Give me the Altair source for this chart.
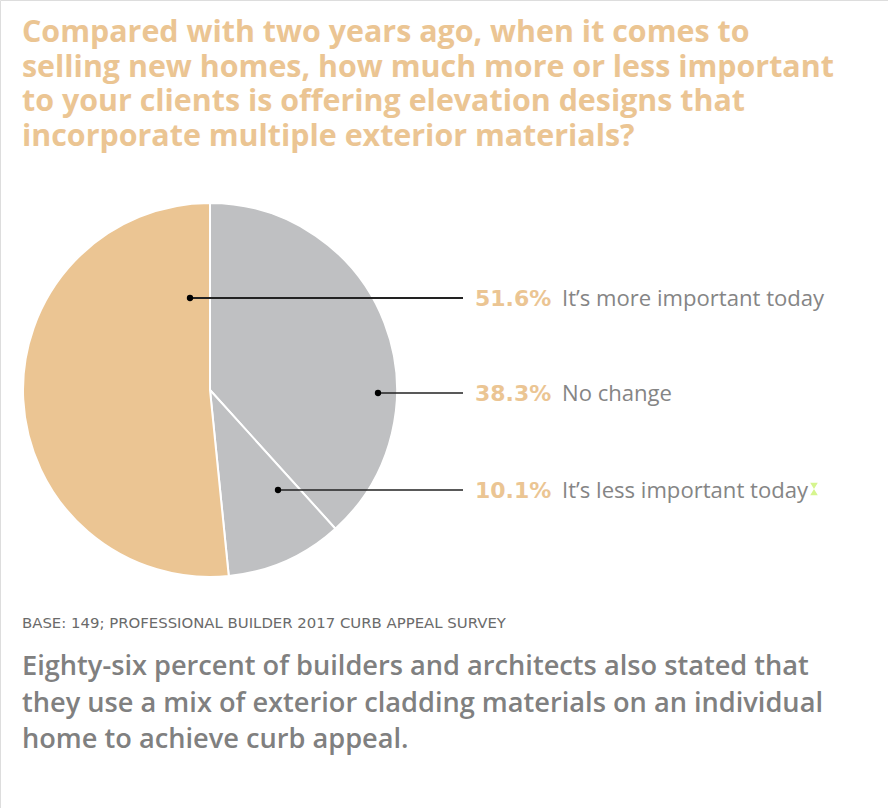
import altair as alt
import pandas as pd

# ---- data ----
categories = ["No change", "It\u2019s less important today", "It\u2019s more important today"]
values = [38.3, 10.1, 51.6]
slice_colors = ["#BFC0C2", "#BFC0C2", "#EBC593"]

label_order = ["It\u2019s more important today", "No change", "It\u2019s less important today"]
label_pcts = ["51.6%", "38.3%", "10.1%"]

title_lines = [
    "Compared with two years ago, when it comes to",
    "selling new homes, how much more or less important",
    "to your clients is offering elevation designs that",
    "incorporate multiple exterior materials?",
]
base_note = "BASE: 149; PROFESSIONAL BUILDER 2017 CURB APPEAL SURVEY"
footer_lines = [
    "Eighty-six percent of builders and architects also stated that",
    "they use a mix of exterior cladding materials on an individual",
    "home to achieve curb appeal.",
]

# ---- layout (pixels) ----
W, H = 888, 808
CX, CY, R = 210, 390, 187
dot_x = [190, 378, 278]
row_y = [298, 393, 490]
line_w = [2.2, 1.4, 1.4]
line_end_x = 463
pct_x = 475
text_x = 562

ORANGE = "#EBC593"
GRAY_TXT = "#858585"

pie_df = pd.DataFrame({"cat": categories, "value": values, "order": list(range(len(values)))})

pie = alt.Chart(pie_df).mark_arc(stroke="white", strokeWidth=2, radius=R).encode(
    theta=alt.Theta("value:Q", stack=True),
    order=alt.Order("order:Q"),
    color=alt.Color("cat:N", scale=alt.Scale(domain=categories, range=slice_colors), legend=None),
    x=alt.value(CX),
    y=alt.value(CY),
)

ann_df = pd.DataFrame({
    "label": label_order,
    "pct": label_pcts,
    "dx": dot_x,
    "y": row_y,
    "sw": line_w,
    "x2": [line_end_x] * 3,
    "px": [pct_x] * 3,
    "tx": [text_x] * 3,
})

X = lambda f: alt.X(f, scale=None, axis=None)
Y = lambda f: alt.Y(f, scale=None, axis=None)

lines = alt.Chart(ann_df).mark_rule(color="#222222").encode(
    x=X("dx:Q"), x2="x2:Q", y=Y("y:Q"),
    strokeWidth=alt.StrokeWidth("sw:Q", scale=None, legend=None),
)
dots = alt.Chart(ann_df).mark_circle(color="#000000", opacity=1, size=40).encode(
    x=X("dx:Q"), y=Y("y:Q")
)
pct_text = alt.Chart(ann_df).mark_text(
    align="left", baseline="middle", font="DejaVu Sans", fontWeight="bold", fontSize=22,
    color=ORANGE, dy=1
).encode(x=X("px:Q"), y=Y("y:Q"), text="pct:N")
lab_text = alt.Chart(ann_df).mark_text(
    align="left", baseline="middle", font="Open Sans", fontWeight=400, fontSize=22.1,
    color=GRAY_TXT, dy=1
).encode(x=X("tx:Q"), y=Y("y:Q"), text="label:N")

# little hourglass artifact after the last label
glyph_df = pd.DataFrame({"x": [814], "y": [489]})
glyph = alt.Chart(glyph_df).mark_point(
    shape="M-0.6,-1L0.6,-1L-0.6,1L0.6,1Z", filled=True, color="#D6F58E", size=160, opacity=1
).encode(x=X("x:Q"), y=Y("y:Q"))

title_df = pd.DataFrame({"t": title_lines, "y": [42, 77, 111, 146]})
title = alt.Chart(title_df).mark_text(
    align="left", baseline="alphabetic", font="Open Sans", fontWeight=700, fontSize=30.4,
    color=ORANGE, lineHeight=30
).encode(x=alt.value(22), y=Y("y:Q"), text="t:N")

base_df = pd.DataFrame({"t": [base_note], "y": [628]})
base = alt.Chart(base_df).mark_text(
    align="left", baseline="alphabetic", font="DejaVu Sans", fontWeight="normal", fontSize=14.9,
    color="#6A6A6A"
).encode(x=alt.value(22), y=Y("y:Q"), text="t:N")

footer_df = pd.DataFrame({"t": footer_lines, "y": [675, 712, 748]})
footer = alt.Chart(footer_df).mark_text(
    align="left", baseline="alphabetic", font="Open Sans", fontWeight=600, fontSize=27.2,
    color="#808080"
).encode(x=alt.value(22), y=Y("y:Q"), text="t:N")

chart = alt.layer(pie, lines, dots, pct_text, lab_text, glyph, title, base, footer).properties(
    width=W, height=H, padding=0, autosize=alt.AutoSizeParams(type="none")
).configure_view(stroke=None).configure(background="white")

chart.save("out.html", embed_options={"renderer": "svg", "actions": False})
